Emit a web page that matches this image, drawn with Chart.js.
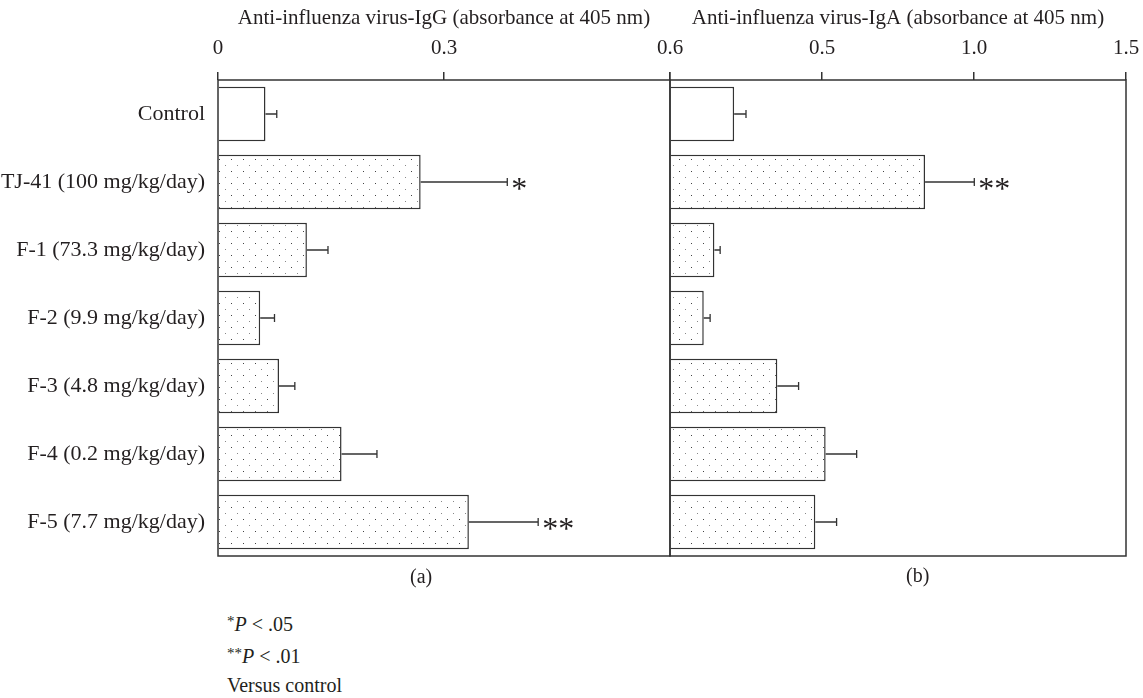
<!DOCTYPE html>
<html>
<head>
<meta charset="utf-8">
<script src="https://cdn.jsdelivr.net/npm/chart.js@4.4.1/dist/chart.umd.min.js"></script>
<style>
  body { margin: 0; background: #fff; width: 1143px; height: 698px; position: relative; overflow: hidden;
         font-family: "Liberation Serif", serif; color: #231f20; }
  .box { position: absolute; top: 0; height: 600px; }
  #leftBox { left: 0; width: 700px; }
  #rightBox { left: 640px; width: 503px; }
  .note { position: absolute; font-size: 20px; line-height: 20px; white-space: nowrap; }
  .note sup { font-size: 15px; vertical-align: 5px; }
</style>
</head>
<body>
<div class="box" id="leftBox"><canvas id="chartIgG"></canvas></div>
<div class="box" id="rightBox"><canvas id="chartIgA"></canvas></div>

<div class="note" style="left:410px; top:566px;">(a)</div>
<div class="note" style="left:906px; top:565px;">(b)</div>
<div class="note" style="left:227px; top:611px;"><sup>*</sup><i>P</i> &lt; .05</div>
<div class="note" style="left:227px; top:643px;"><sup>**</sup><i>P</i> &lt; .01</div>
<div class="note" style="left:227px; top:675px;">Versus control</div>

<script>
const groups = [
  "Control",
  "TJ-41 (100 mg/kg/day)",
  "F-1 (73.3 mg/kg/day)",
  "F-2 (9.9 mg/kg/day)",
  "F-3 (4.8 mg/kg/day)",
  "F-4 (0.2 mg/kg/day)",
  "F-5 (7.7 mg/kg/day)"
];

// absorbance at 405 nm, mean and SD
const iggMean = [0.063, 0.269, 0.118, 0.056, 0.081, 0.164, 0.333];
const iggSD   = [0.015, 0.115, 0.028, 0.019, 0.021, 0.047, 0.092];
const iggSig  = ["", "*", "", "", "", "", "**"];
const iggTicks = [0, 0.3, 0.6];

const igaMean = [0.211, 0.839, 0.146, 0.111, 0.353, 0.512, 0.478];
const igaSD   = [0.039, 0.162, 0.019, 0.021, 0.070, 0.102, 0.070];
const igaSig  = ["", "**", "", "", "", "", ""];
const igaTicks = [0, 0.5, 1.0, 1.5];

const INK = "#231f20";
const LINE = "#333";
const FONT = { family: "'Liberation Serif', serif", size: 21 };
const LABEL_FONT = { family: "'Liberation Serif', serif", size: 22 };

// dotted fill for the treated groups
function stipple() {
  const c = document.createElement("canvas");
  c.width = 12; c.height = 12;
  const g = c.getContext("2d");
  g.fillStyle = "#fff";
  g.fillRect(0, 0, 12, 12);
  g.fillStyle = "#444";
  g.fillRect(3, 3, 1, 1);
  g.fillStyle = "#888";
  g.fillRect(9, 9, 1, 1);
  return g.createPattern(c, "repeat");
}
const dots = stipple();
const fills = groups.map((g, i) => i === 0 ? "#fff" : dots);

// frame round the plot area
const framePlugin = {
  id: "frame",
  afterDraw(chart) {
    const { ctx, chartArea: a } = chart;
    ctx.save();
    ctx.strokeStyle = LINE;
    ctx.lineWidth = 1.5;
    ctx.strokeRect(a.left, a.top, a.right - a.left, a.bottom - a.top);
    ctx.restore();
  }
};

// SD whiskers and significance stars
const errorPlugin = {
  id: "errors",
  afterDatasetsDraw(chart, args, opts) {
    const { ctx } = chart;
    const xs = chart.scales.x;
    const meta = chart.getDatasetMeta(0);
    ctx.save();
    ctx.strokeStyle = LINE;
    ctx.lineWidth = 1.3;
    meta.data.forEach((bar, i) => {
      const m = opts.mean[i], sd = opts.sd[i];
      const x0 = xs.getPixelForValue(m);
      const x1 = xs.getPixelForValue(m + sd);
      const y = bar.y;
      ctx.beginPath();
      ctx.moveTo(x0, y);
      ctx.lineTo(x1, y);
      ctx.moveTo(x1, y - 4);
      ctx.lineTo(x1, y + 4);
      ctx.stroke();
      const stars = opts.sig[i];
      ctx.fillStyle = INK;
      ctx.font = "32px 'Liberation Serif', serif";
      ctx.textBaseline = "alphabetic";
      ctx.textAlign = "left";
      for (let k = 0; k < stars.length; k++) {
        ctx.fillText("*", x1 + 4 + k * 16, y + 17);
      }
    });
    ctx.restore();
  }
};

function fmt(v) {
  return v === 0 ? "0" : v.toFixed(1);
}

function makePanel(id, mean, sd, sig, ticks, title, showLabels, pad, hideZero) {
  return new Chart(document.getElementById(id), {
    type: "bar",
    data: {
      labels: groups,
      datasets: [{
        data: mean,
        backgroundColor: fills,
        borderColor: LINE,
        borderWidth: 1.5,
        categoryPercentage: 1,
        barPercentage: 0.8
      }]
    },
    plugins: [errorPlugin, framePlugin],
    options: {
      indexAxis: "y",
      responsive: true,
      maintainAspectRatio: false,
      animation: false,
      layout: { padding: pad },
      plugins: {
        legend: { display: false },
        tooltip: { enabled: false },
        errors: { mean: mean, sd: sd, sig: sig }
      },
      scales: {
        x: {
          position: "top",
          min: 0,
          max: ticks[ticks.length - 1],
          afterBuildTicks: s => { s.ticks = ticks.map(v => ({ value: v })); },
          afterFit: s => {
            s.height = 80;
            // edge labels may hang over, the layout padding leaves room for them
            s.paddingLeft = 0;
            s.paddingRight = 0;
          },
          grid: { drawOnChartArea: false, tickLength: 8, color: LINE, lineWidth: 1.5 },
          border: { display: false },
          ticks: {
            font: FONT, color: INK, padding: 11, maxRotation: 0, autoSkip: false,
            callback: v => (hideZero && v === 0) ? "" : fmt(v)
          },
          title: { display: true, text: title, font: FONT, color: INK, padding: { top: 6, bottom: 0 } }
        },
        y: {
          display: showLabels,
          afterFit: s => { if (showLabels) s.width = 218; },
          grid: { display: false, drawTicks: false },
          border: { display: false },
          ticks: { font: LABEL_FONT, color: INK, padding: 13 }
        }
      }
    }
  });
}

makePanel("chartIgG", iggMean, iggSD, iggSig, iggTicks,
  "Anti-influenza virus-IgG (absorbance at 405 nm)", true,
  { left: 0, right: 30, top: 0, bottom: 44 }, false);

makePanel("chartIgA", igaMean, igaSD, igaSig, igaTicks,
  "Anti-influenza virus-IgA (absorbance at 405 nm)", false,
  { left: 30, right: 17, top: 0, bottom: 44 }, true);
</script>
</body>
</html>
